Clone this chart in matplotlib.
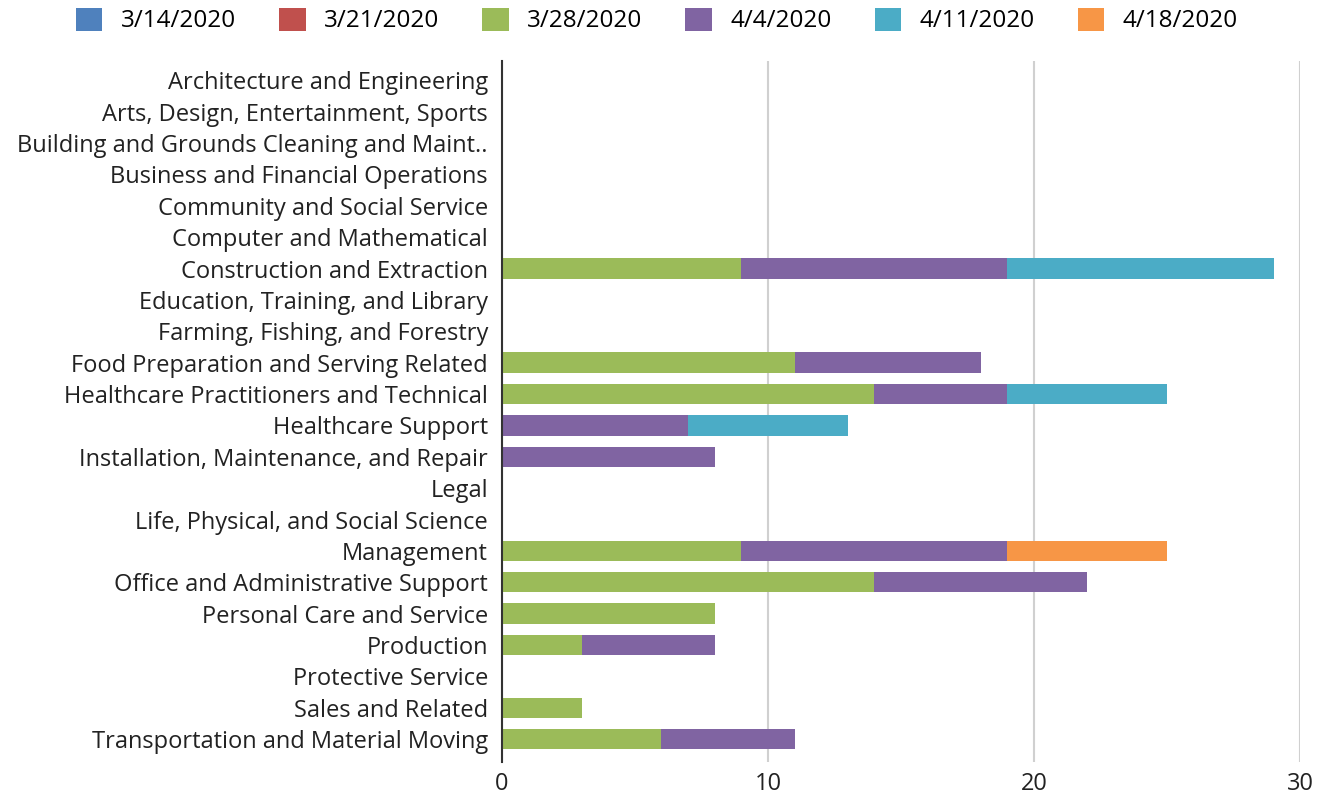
import matplotlib.pyplot as plt
import numpy as np

plt.rcParams['font.family'] = ['Open Sans', 'DejaVu Sans']

categories = [
    "Architecture and Engineering",
    "Arts, Design, Entertainment, Sports",
    "Building and Grounds Cleaning and Maint..",
    "Business and Financial Operations",
    "Community and Social Service",
    "Computer and Mathematical",
    "Construction and Extraction",
    "Education, Training, and Library",
    "Farming, Fishing, and Forestry",
    "Food Preparation and Serving Related",
    "Healthcare Practitioners and Technical",
    "Healthcare Support",
    "Installation, Maintenance, and Repair",
    "Legal",
    "Life, Physical, and Social Science",
    "Management",
    "Office and Administrative Support",
    "Personal Care and Service",
    "Production",
    "Protective Service",
    "Sales and Related",
    "Transportation and Material Moving",
]

weeks = ["3/14/2020", "3/21/2020", "3/28/2020", "4/4/2020", "4/11/2020", "4/18/2020"]
colors = ["#4f81bd", "#c0504d", "#9bbb59", "#8064a2", "#4bacc6", "#f79646"]

w_0314 = [0] * 22
w_0321 = [0] * 22
w_0328 = [0, 0, 0, 0, 0, 0, 9, 0, 0, 11, 14, 0, 0, 0, 0, 9, 14, 8, 3, 0, 3, 6]
w_0404 = [0, 0, 0, 0, 0, 0, 10, 0, 0, 7, 5, 7, 8, 0, 0, 10, 8, 0, 5, 0, 0, 5]
w_0411 = [0, 0, 0, 0, 0, 0, 10, 0, 0, 0, 6, 6, 0, 0, 0, 0, 0, 0, 0, 0, 0, 0]
w_0418 = [0, 0, 0, 0, 0, 0, 0, 0, 0, 0, 0, 0, 0, 0, 0, 6, 0, 0, 0, 0, 0, 0]
series = [w_0314, w_0321, w_0328, w_0404, w_0411, w_0418]

fig = plt.figure(figsize=(13.24, 7.98), dpi=100)
ax = fig.add_axes([0.379, 0.045, 0.603, 0.878])

y = np.arange(len(categories))
left = np.zeros(len(categories))
for name, vals, c in zip(weeks, series, colors):
    ax.barh(y, vals, left=left, height=0.65, color=c, label=name, zorder=3)
    left += np.array(vals)

ax.set_xlim(0, 30)
ax.set_ylim(len(categories) - 0.27, -0.6)
ax.set_xticks([0, 10, 20, 30])
ax.set_yticks(y)
ax.set_yticklabels(categories)
ax.tick_params(axis='y', length=0, pad=10, labelsize=17, labelcolor='#222222')
ax.tick_params(axis='x', length=0, pad=7, labelsize=17, labelcolor='#222222')
ax.grid(axis='x', color='#d0d0d0', linewidth=1.5, zorder=0)
for s in ['top', 'right', 'bottom']:
    ax.spines[s].set_visible(False)
ax.spines['left'].set_color('#333333')
ax.spines['left'].set_linewidth(1.5)
ax.spines['left'].set_zorder(4)

fig.legend(loc='upper center', bbox_to_anchor=(0.496, 1.018), ncol=6, frameon=False,
           fontsize=17.5, handlelength=1.1, handleheight=1.1, handletextpad=0.75,
           columnspacing=1.77)

plt.savefig("out.png")
